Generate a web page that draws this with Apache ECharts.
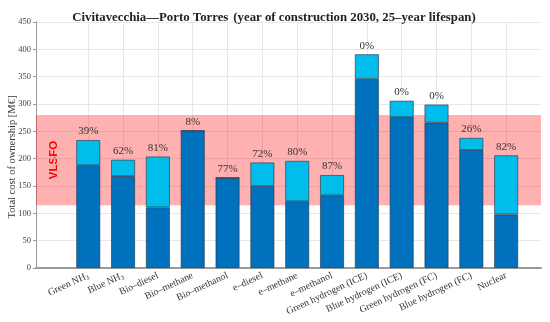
<!DOCTYPE html>
<html><head><meta charset="utf-8">
<script src="https://cdn.jsdelivr.net/npm/echarts@6/dist/echarts.min.js"></script>
<style>html,body{margin:0;padding:0;background:#fff}#c{width:550px;height:322px}</style>
</head><body><div id="c"></div>
<script>
const categories = ['Green NH3','Blue NH3','Bio–diesel','Bio–methane','Bio–methanol','e–diesel','e–methane','e–methanol','Green hydrogen (ICE)','Blue hydrogen (ICE)','Green hydrogen (FC)','Blue hydrogen (FC)','Nuclear'];
const baseCost = [188,168,111,251,165,150,122,133,346,276,266,216,98];
const addCost  = [46,30,93,0,0,43,74,37,45,30,33,22,108];
const shares   = ['39%','62%','81%','8%','77%','72%','80%','87%','0%','0%','0%','26%','82%'];
const yMin = 0, yMax = 450, yStep = 50;
const vlsfoRange = [115, 280];

const SERIF = '"Liberation Serif", "DejaVu Serif", serif';
const idx = categories.map((_, i) => i);
const chart = echarts.init(document.getElementById('c'), null, {renderer: 'canvas'});
function fmtCat(v) {
  const i = Math.round(v);
  const s = categories[i];
  if (!s) return '';
  if (s.endsWith('NH3')) return '{n|' + s.slice(0, -1) + '}{s|3}';
  return '{n|' + s + '}';
}
const edge = {borderColor: 'rgba(30,50,70,0.75)', borderWidth: 0.8};
chart.setOption({
  animation: false,
  title: {
    text: '{b|Civitavecchia—Porto Torres} {r|(year of construction 2030, 25–year lifespan)}',
    left: 269, top: 4, textAlign: 'center',
    textStyle: {
      rich: {
        b: {fontFamily: SERIF, fontSize: 12.8, fontWeight: 'bold', color: '#222'},
        r: {fontFamily: SERIF, fontSize: 12.8, color: '#222'}
      }
    }
  },
  grid: {left: 36, right: 9, top: 22, bottom: 54, containLabel: false},
  xAxis: {
    type: 'value', min: -1.5, max: 13,
    axisLine: {show: true, onZero: false, lineStyle: {color: '#9a9a9a', width: 2}},
    axisTick: {show: false, customValues: idx},
    axisLabel: {
      customValues: idx, rotate: 25, margin: 7, formatter: fmtCat,
      rich: {
        n: {fontFamily: SERIF, fontSize: 9.8, color: '#333'},
        s: {fontFamily: SERIF, fontSize: 6.5, color: '#333', padding: [5, 0, 0, 0]}
      }
    },
    splitLine: {show: true, lineStyle: {color: '#e8e8e8', width: 1}}
  },
  yAxis: {
    type: 'value', min: yMin, max: yMax, interval: yStep,
    axisLine: {show: true, onZero: false, lineStyle: {color: '#9a9a9a', width: 1}},
    axisTick: {show: true, length: 3, lineStyle: {color: '#9a9a9a'}},
    axisLabel: {fontFamily: SERIF, fontSize: 8.5, color: '#444', margin: 5},
    splitLine: {show: true, lineStyle: {color: '#e8e8e8', width: 1}}
  },
  graphic: [
    {type: 'text', x: 54, y: 160, rotation: Math.PI / 2,
     style: {text: 'VLSFO', fontFamily: '"Liberation Sans", Arial, sans-serif', fontWeight: 'bold', fontSize: 11.5, fill: '#ff0000', align: 'center', verticalAlign: 'middle'}},
    {type: 'text', x: 12, y: 157, rotation: Math.PI / 2,
     style: {text: 'Total cost of ownership [M€]', fontFamily: SERIF, fontSize: 10.5, fill: '#333', align: 'center', verticalAlign: 'middle'}}
  ],
  series: [
    {
      type: 'bar', stack: 'tco', barWidth: 24,
      encode: {x: 1, y: 0},
      data: baseCost.map((v, i) => [v, i]),
      itemStyle: Object.assign({color: '#0071bc'}, edge),
      markArea: {
        silent: true,
        itemStyle: {color: 'rgba(255,0,0,0.31)'},
        data: [[{yAxis: vlsfoRange[0]}, {yAxis: vlsfoRange[1]}]]
      }
    },
    {
      type: 'bar', stack: 'tco', barWidth: 24,
      encode: {x: 1, y: 0},
      data: addCost.map((v, i) => [v, i]),
      itemStyle: Object.assign({color: '#00bdeb'}, edge),
      label: {
        show: true, position: 'top', distance: 3,
        fontFamily: SERIF, fontSize: 11, color: '#333',
        formatter: p => shares[p.dataIndex]
      }
    }
  ]
});
</script></body></html>
